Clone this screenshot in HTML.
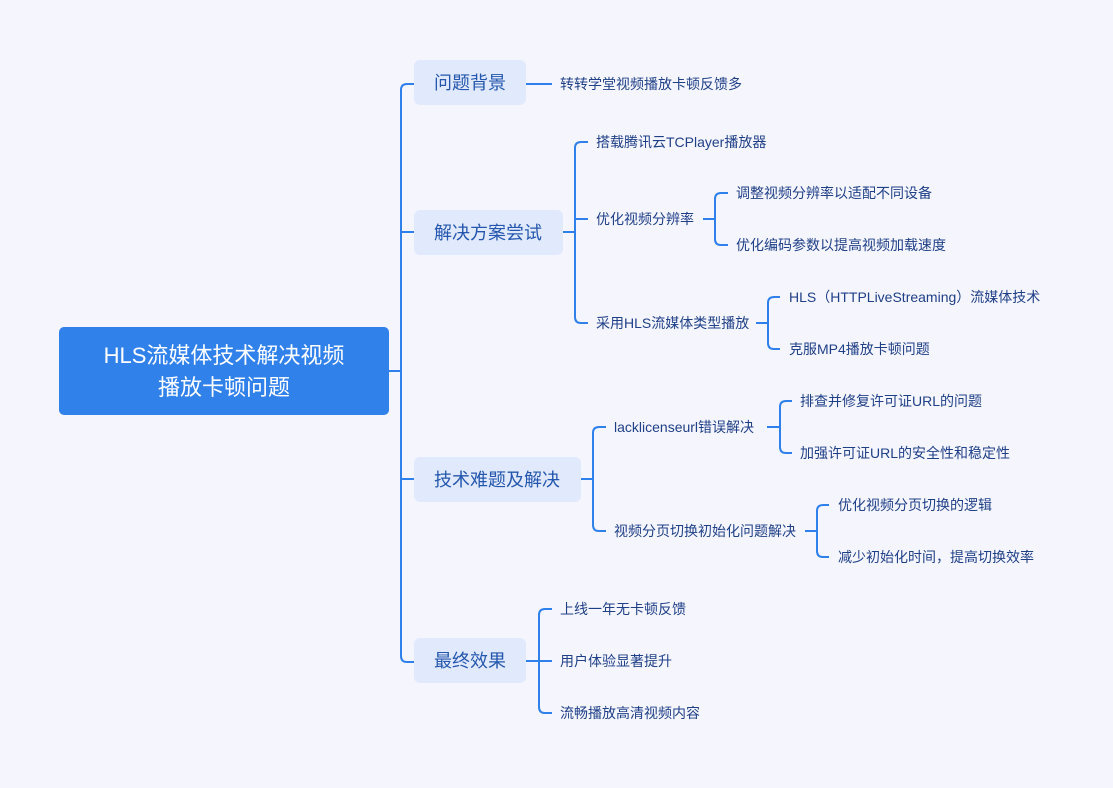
<!DOCTYPE html>
<html><head><meta charset="utf-8"><style>
html,body{margin:0;padding:0;background:#f5f6fd;}
svg{display:block;font-family:"Liberation Sans","Noto Sans CJK SC",sans-serif;}
.c{font-size:14px;fill:#1f3f86;}
.l1{font-size:18px;fill:#2457ad;}
</style></head><body>
<svg width="1113" height="788" viewBox="0 0 1113 788">
<rect width="1113" height="788" fill="#f5f6fd"/>
<g fill="none" stroke="#2f80ea" stroke-width="2">
<path d="M388 371 H401"/>
<path d="M414 84 H407 Q401 84 401 90 V656 Q401 662 407 662 H414"/>
<path d="M401 232 H414 M401 479 H414"/>
<path d="M526 84 H552"/>
<path d="M562 232 H575"/>
<path d="M588 142 H581 Q575 142 575 148 V317 Q575 323 581 323 H588"/>
<path d="M575 219 H588"/>
<path d="M703 219 H715"/>
<path d="M728 193 H721 Q715 193 715 199 V239 Q715 245 721 245 H728"/>
<path d="M756 323 H768"/>
<path d="M780 297 H774 Q768 297 768 303 V343 Q768 349 774 349 H780"/>
<path d="M580 479 H593"/>
<path d="M606 427 H599 Q593 427 593 433 V525 Q593 531 599 531 H606"/>
<path d="M767 427 H780"/>
<path d="M792 401 H786 Q780 401 780 407 V447 Q780 453 786 453 H792"/>
<path d="M805 531 H817"/>
<path d="M829 505 H823 Q817 505 817 511 V551 Q817 557 823 557 H829"/>
<path d="M526 661 H539"/>
<path d="M552 609 H545 Q539 609 539 615 V707 Q539 713 545 713 H552"/>
<path d="M539 661 H552"/>
</g>
<rect x="59" y="327" width="330" height="88" rx="5" fill="#3181ea"/>
<text x="224" y="363" font-size="22" fill="#fff" text-anchor="middle">HLS流媒体技术解决视频</text>
<text x="224" y="395" font-size="22" fill="#fff" text-anchor="middle">播放卡顿问题</text>
<rect x="414" y="60" width="112" height="45" rx="6" fill="#e1e9fc"/>
<text x="434" y="89" class="l1">问题背景</text>
<rect x="414" y="210" width="149" height="45" rx="6" fill="#e1e9fc"/>
<text x="434" y="239" class="l1">解决方案尝试</text>
<rect x="414" y="457" width="167" height="45" rx="6" fill="#e1e9fc"/>
<text x="434" y="486" class="l1">技术难题及解决</text>
<rect x="414" y="638" width="112" height="45" rx="6" fill="#e1e9fc"/>
<text x="434" y="667" class="l1">最终效果</text>
<text x="560" y="89" class="c">转转学堂视频播放卡顿反馈多</text>
<text x="596" y="147" class="c">搭载腾讯云TCPlayer播放器</text>
<text x="596" y="224" class="c">优化视频分辨率</text>
<text x="596" y="328" class="c">采用HLS流媒体类型播放</text>
<text x="736" y="198" class="c">调整视频分辨率以适配不同设备</text>
<text x="736" y="250" class="c">优化编码参数以提高视频加载速度</text>
<text x="789" y="302" class="c">HLS（HTTPLiveStreaming）流媒体技术</text>
<text x="789" y="354" class="c">克服MP4播放卡顿问题</text>
<text x="614" y="432" class="c">lacklicenseurl错误解决</text>
<text x="614" y="536" class="c">视频分页切换初始化问题解决</text>
<text x="800" y="406" class="c">排查并修复许可证URL的问题</text>
<text x="800" y="458" class="c">加强许可证URL的安全性和稳定性</text>
<text x="838" y="510" class="c">优化视频分页切换的逻辑</text>
<text x="838" y="562" class="c">减少初始化时间，提高切换效率</text>
<text x="560" y="614" class="c">上线一年无卡顿反馈</text>
<text x="560" y="666" class="c">用户体验显著提升</text>
<text x="560" y="718" class="c">流畅播放高清视频内容</text>
</svg>
</body></html>
